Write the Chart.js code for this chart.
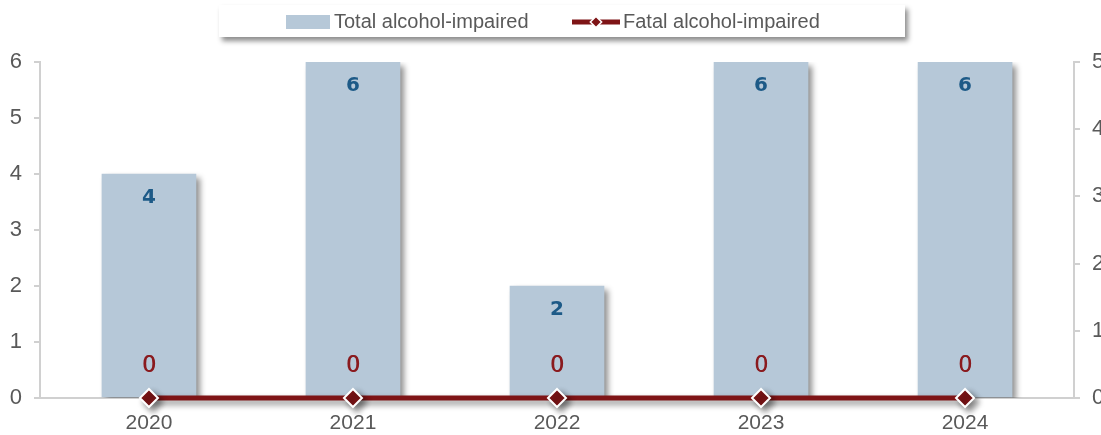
<!DOCTYPE html>
<html><head><meta charset="utf-8">
<script src="https://cdn.jsdelivr.net/npm/chart.js@4/dist/chart.umd.min.js"></script>
<style>
html,body{margin:0;padding:0;background:#fff;overflow:hidden;}
#wrap{position:relative;width:1101px;height:435px;}
#legend{position:absolute;left:219px;top:5px;width:686px;height:32px;background:#fff;box-shadow:3px 4px 5px rgba(0,0,0,0.45);font-family:"Liberation Sans",Arial,sans-serif;font-size:20px;color:#595959;}
.li{position:absolute;top:5px;line-height:22px;white-space:nowrap;}
</style></head>
<body>
<div id="wrap">
<canvas id="c" width="1101" height="435"></canvas>
<div id="legend">
  <div class="li" style="left:67px;"><span style="display:inline-block;width:44px;height:14px;background:#B6C8D8;vertical-align:-1px;margin-right:4px;"></span>Total alcohol-impaired</div>
  <div class="li" style="left:353px;"><canvas id="lg" width="48" height="20" style="vertical-align:-4px;margin-right:3px;"></canvas>Fatal alcohol-impaired</div>
</div>
</div>
<script>
const categories = ["2020","2021","2022","2023","2024"];
const totalImpaired = [4, 6, 2, 6, 6];
const fatalImpaired = [0, 0, 0, 0, 0];
const leftTicks = [0,1,2,3,4,5,6];
const rightTicks = [0,1,2,3,4,5];

const FONT = '"Liberation Sans", Arial, sans-serif';
const BAR = '#B6C8D8', LINE = '#7E1416';

// legend line sample
(function(){
  const g = document.getElementById('lg').getContext('2d');
  g.strokeStyle = LINE; g.lineWidth = 5;
  g.beginPath(); g.moveTo(0,10); g.lineTo(48,10); g.stroke();
  g.save(); g.translate(24,10); g.rotate(Math.PI/4);
  g.fillStyle = LINE; g.strokeStyle='#fff'; g.lineWidth=1.5;
  g.fillRect(-4,-4,8,8); g.strokeRect(-4,-4,8,8); g.restore();
})();

const shadowPlugin = {
  id:'shadow',
  beforeDatasetDraw(chart){
    const c = chart.ctx; c.save();
    c.shadowColor = 'rgba(0,0,0,0.45)';
    c.shadowBlur = 6; c.shadowOffsetX = 4; c.shadowOffsetY = 4;
  },
  afterDatasetDraw(chart){ chart.ctx.restore(); }
};

const labelPlugin = {
  id:'vlabels',
  afterDatasetsDraw(chart){
    const c = chart.ctx; c.save();
    c.textAlign='center'; c.textBaseline='middle';
    c.font = 'bold 20px "DejaVu Sans", sans-serif';
    chart.getDatasetMeta(1).data.forEach((el,i)=>{
      c.fillStyle = '#1D5A87';
      c.fillText(String(totalImpaired[i]), el.x, el.y + 24);
    });
    c.font = '23px ' + FONT;
    chart.getDatasetMeta(0).data.forEach((el,i)=>{
      c.fillStyle = '#8A1A1E';
      c.fillText(String(fatalImpaired[i]), el.x, el.y - 32);
      c.fillText(String(fatalImpaired[i]), el.x + 0.6, el.y - 32);
    });
    c.restore();
  }
};

const idx = categories.map((_,i)=>i);

new Chart(document.getElementById('c'), {
  data:{
    datasets:[
      {type:'line', label:'Fatal alcohol-impaired', data: idx.map(i=>({x:i, y:fatalImpaired[i]})), yAxisID:'y1',
       borderColor: LINE, borderWidth:5, pointStyle:'rectRot', pointRadius:9,
       pointBackgroundColor: LINE, pointBorderColor:'#fff', pointBorderWidth:2, order:0, clip:false},
      {type:'bar', label:'Total alcohol-impaired', data: idx.map(i=>({x:i, y:totalImpaired[i]})), yAxisID:'y',
       backgroundColor: BAR, barThickness:94, order:1}
    ]
  },
  options:{
    responsive:false, animation:false,
    layout:{padding:{top:62, left:0, right:0, bottom:0}},
    plugins:{legend:{display:false}, tooltip:{enabled:false}},
    scales:{
      x:{
        type:'linear', min:-0.534, max:4.534, offset:false, bounds:'data',
        afterBuildTicks(s){ s.ticks = idx.map(v=>({value:v})); },
        afterFit(s){ s.height = 37; },
        grid:{display:false, drawTicks:false, offset:false},
        border:{display:true, color:'#D0D0D0', width:2},
        ticks:{color:'#595959', font:{family:FONT, size:21}, padding:13,
               callback:(v)=>categories[v]}
      },
      y:{
        position:'left', min:0, max:6,
        afterBuildTicks(s){ s.ticks = leftTicks.map(v=>({value:v})); },
        afterFit(s){ s.width = 40; },
        grid:{drawOnChartArea:false, tickLength:6, color:'#D0D0D0', lineWidth:2},
        border:{display:true, color:'#D0D0D0', width:2},
        ticks:{color:'#595959', font:{family:FONT, size:22}, padding:12}
      },
      y1:{
        position:'right', min:0, max:5,
        afterBuildTicks(s){ s.ticks = rightTicks.map(v=>({value:v})); },
        afterFit(s){ s.width = 27; },
        grid:{drawOnChartArea:false, tickLength:6, color:'#D0D0D0', lineWidth:2},
        border:{display:true, color:'#D0D0D0', width:2},
        ticks:{color:'#595959', font:{family:FONT, size:22}, padding:12}
      }
    }
  },
  plugins:[shadowPlugin, labelPlugin]
});
</script>
</body></html>
